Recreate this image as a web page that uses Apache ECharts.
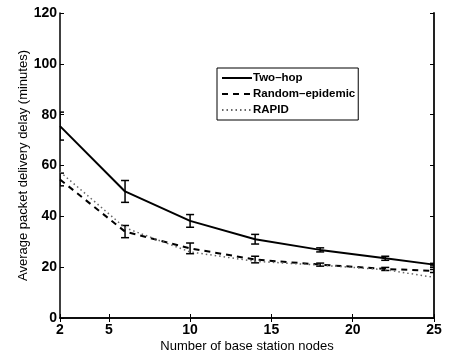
<!DOCTYPE html>
<html>
<head>
    <meta charset="utf-8">
    <title>Packet delivery delay</title>
    <script src="https://cdn.jsdelivr.net/npm/echarts@6/dist/echarts.min.js"></script>
</head>
<body style="margin:0">
    <div id="main" style="width: 454px;height:356px;"></div>
    <script type="text/javascript">

// number of base station nodes
var nodes = [2, 6, 10, 14, 18, 22, 25];
var xTicks = [2, 5, 10, 15, 20, 25];

// delay in minutes
var twoHop = [75.5, 49.8, 38.2, 31.0, 26.8, 23.5, 21.0];
var twoHopErr = [5.5, 4.3, 2.5, 1.9, 0.8, 0.8, 0.5];
var randomEpidemic = [54.5, 34.0, 27.4, 23.0, 21.0, 19.3, 18.5];
var randomEpidemicErr = [2.5, 2.4, 2.1, 1.3, 0.6, 0.6, 0.6];
var rapid = [57.5, 35.5, 26.0, 22.3, 20.8, 19.0, 16.0];

var myChart = echarts.init(document.getElementById('main'));

function pairs(ys) {
    return nodes.map(function (x, i) { return [x, ys[i]]; });
}

function errData(ys, errs) {
    return nodes.map(function (x, i) { return [x, ys[i] - errs[i], ys[i] + errs[i]]; });
}

function renderErr(params, api) {
    var lo = api.coord([api.value(0), api.value(1)]);
    var hi = api.coord([api.value(0), api.value(2)]);
    var w = 4;
    var style = { stroke: '#000', lineWidth: 1.5 };
    return {
        type: 'group',
        children: [
            { type: 'line', shape: { x1: lo[0], y1: lo[1], x2: hi[0], y2: hi[1] }, style: style },
            { type: 'line', shape: { x1: lo[0] - w, y1: lo[1], x2: lo[0] + w, y2: lo[1] }, style: style },
            { type: 'line', shape: { x1: hi[0] - w, y1: hi[1], x2: hi[0] + w, y2: hi[1] }, style: style }
        ]
    };
}

var tickFont = { color: '#000', fontFamily: 'Liberation Sans', fontWeight: 'bold', fontSize: 14 };
var frameLine = { lineStyle: { color: '#000', width: 1.5 } };

var option = {
    animation: false,
    grid: { left: 60, right: 20, top: 13, bottom: 38, outerBoundsMode: 'none' },
    legend: {
        data: ['Two\u2013hop', 'Random\u2013epidemic', 'RAPID'],
        orient: 'vertical',
        left: 217,
        top: 68,
        padding: [4, 3, 4, 4],
        itemGap: 4,
        itemWidth: 30,
        itemHeight: 12,
        itemStyle: { opacity: 0 },
        backgroundColor: '#fff',
        borderColor: '#000',
        borderWidth: 1,
        borderRadius: 0,
        textStyle: { color: '#000', fontFamily: 'Liberation Sans', fontWeight: 'bold', fontSize: 11.5, padding: [0, 0, 0, -4] }
    },
    xAxis: [
        {
            type: 'value', min: 2, max: 25,
            name: 'Number of base station nodes',
            nameLocation: 'middle',
            nameGap: 22,
            nameMoveOverlap: false,
            nameTextStyle: { color: '#000', fontFamily: 'Liberation Sans', fontSize: 13 },
            axisLine: frameLine,
            axisTick: { inside: true, length: 4, customValues: xTicks, lineStyle: { color: '#000' } },
            axisLabel: Object.assign({ customValues: xTicks, margin: 5 }, tickFont),
            splitLine: { show: false }
        },
        {
            type: 'value', min: 2, max: 25, position: 'top',
            axisLine: frameLine,
            axisTick: { inside: true, length: 4, customValues: xTicks, lineStyle: { color: '#000' } },
            axisLabel: { show: false },
            splitLine: { show: false }
        }
    ],
    yAxis: [
        {
            type: 'value', min: 0, max: 120, interval: 20,
            name: 'Average packet delivery delay (minutes)',
            nameLocation: 'middle',
            nameGap: 30,
            nameMoveOverlap: false,
            nameTextStyle: { color: '#000', fontFamily: 'Liberation Sans', fontSize: 13 },
            axisLine: frameLine,
            axisTick: { inside: true, length: 4, lineStyle: { color: '#000' } },
            axisLabel: Object.assign({ margin: 3 }, tickFont),
            splitLine: { show: false }
        },
        {
            type: 'value', min: 0, max: 120, interval: 20, position: 'right',
            axisLine: { lineStyle: { color: '#222', width: 2 } },
            axisTick: { inside: true, length: 4, lineStyle: { color: '#000' } },
            axisLabel: { show: false },
            splitLine: { show: false }
        }
    ],
    series: [
        {
            name: 'Two\u2013hop', type: 'line', symbol: 'none',
            data: pairs(twoHop),
            lineStyle: { color: '#000', width: 2 },
            itemStyle: { color: '#000' }
        },
        {
            name: 'Random\u2013epidemic', type: 'line', symbol: 'none',
            data: pairs(randomEpidemic),
            lineStyle: { color: '#000', width: 2, type: [6, 5] },
            itemStyle: { color: '#000' }
        },
        {
            name: 'RAPID', type: 'line', symbol: 'none',
            data: pairs(rapid),
            lineStyle: { color: '#666', width: 1.5, type: [1.5, 3] },
            itemStyle: { color: '#666' }
        },
        {
            type: 'custom', renderItem: renderErr, clip: true,
            data: errData(twoHop, twoHopErr), z: 3
        },
        {
            type: 'custom', renderItem: renderErr, clip: true,
            data: errData(randomEpidemic, randomEpidemicErr), z: 3
        }
    ]
};

myChart.setOption(option);
    </script>
</body>
</html>
